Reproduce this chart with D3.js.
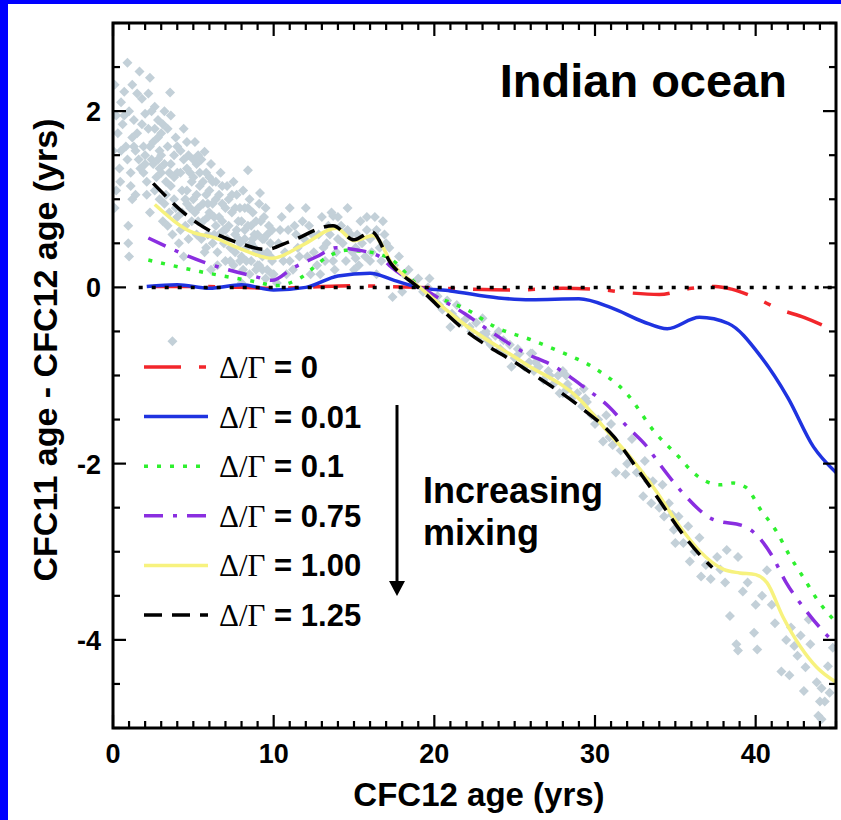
<!DOCTYPE html>
<html><head><meta charset="utf-8">
<script src="https://cdn.jsdelivr.net/npm/d3@7"></script>
<style>body{margin:0;background:#fff}svg{display:block}</style>
</head><body>
<script>
// ---------- data ----------
const xTicks = [0, 10, 20, 30, 40];
const yTicks = [-4, -2, 0, 2];
const xTickLabels = ["0", "10", "20", "30", "40"];
const yTickLabels = ["-4", "-2", "0", "2"];
const legendLabels = ["0", "0.01", "0.1", "0.75", "1.00", "1.25"];

const lineRed = [[2.5,0.01],[5,0.01],[8,0.0],[10,-0.01],[12,0.0],[15,0.02],[17,0.01],[19,0.0],[22,-0.02],[25,-0.03],[28,-0.01],[30,-0.02],[32,-0.06],[34,-0.08],[36,-0.01],[37.5,0.01],[38.5,-0.02],[40,-0.12],[41.5,-0.25],[43,-0.34],[45,-0.5]];
const lineBlue = [[2.1,0.01],[4,0.03],[6,-0.01],[8,0.03],[10,-0.03],[12,0.0],[14,0.13],[16,0.16],[17.5,0.08],[19,0.0],[21,-0.04],[24,-0.12],[26,-0.14],[29,-0.13],[31,-0.23],[33,-0.39],[34.5,-0.47],[36.5,-0.34],[38.3,-0.41],[40.3,-0.78],[42,-1.25],[43.6,-1.81],[45,-2.1]];
const lineGreen = [[2.2,0.31],[5.4,0.18],[8.7,0.07],[10.2,0.02],[11.6,0.1],[13.3,0.34],[14.5,0.42],[16,0.4],[17.3,0.32],[19,0.02],[22.3,-0.28],[23.7,-0.44],[26.1,-0.6],[27.7,-0.72],[30,-0.92],[31.9,-1.19],[33.8,-1.66],[35.2,-1.92],[36.1,-2.1],[37.8,-2.24],[38.6,-2.22],[39.4,-2.27],[40.3,-2.52],[41.3,-2.77],[42.1,-3.04],[43,-3.3],[43.9,-3.56],[45,-3.8]];
const linePurple = [[2.2,0.56],[5.6,0.29],[8.9,0.12],[9.9,0.08],[11.2,0.22],[12.7,0.35],[13.9,0.45],[15,0.43],[16.6,0.35],[17.2,0.25],[19.2,0.0],[21.9,-0.3],[23.5,-0.5],[25.6,-0.74],[27.4,-0.89],[29.3,-1.13],[30.9,-1.36],[32,-1.58],[33.2,-1.8],[34,-2.0],[35.5,-2.34],[37.3,-2.63],[39.4,-2.72],[40,-2.8],[41,-3.04],[41.9,-3.35],[43.1,-3.66],[44.5,-3.96],[45,-4.05]];
const lineYellow = [[2.6,0.94],[5,0.62],[6.2,0.57],[7.9,0.44],[9.9,0.33],[11.8,0.48],[13.9,0.67],[15,0.53],[16.2,0.59],[17.4,0.26],[19.1,0.0],[21.8,-0.41],[25.6,-0.86],[29.1,-1.28],[30.7,-1.62],[32.4,-1.97],[33.8,-2.31],[35.3,-2.72],[36.5,-2.99],[38,-3.2],[39,-3.24],[40,-3.26],[40.7,-3.35],[41.7,-3.74],[42.8,-4.08],[43.8,-4.31],[45,-4.48]];
const lineBlack = [[2.5,1.18],[5,0.76],[7.9,0.5],[9.5,0.43],[11,0.52],[13.7,0.7],[15,0.54],[16.1,0.63],[17.3,0.27],[19,0.0],[21.8,-0.47],[25.6,-0.92],[29.1,-1.36],[31.2,-1.7],[32.4,-2.0],[33.8,-2.36],[35.3,-2.76],[36.5,-3.03],[37.3,-3.18]];

const obsX = [0.1,0.5,0.9,0.7,1.0,1.3,1.65,1.8,2.3,2.0,1.5,0.6,0.3,0.8,1.2,2.2,2.6,2.8,0.4,0.9,1.4,1.9,2.5,0.2,1.1,1.7,2.4,2.9,0.95,0.95,1.0,0.45,3.55,3.2,3.0,2.1,2.7,
3.1,3.4,3.6,3.3,3.8,3.5,3.9,4.0,3.2,3.7,
4.2,4.4,4.6,4.3,4.8,4.5,4.9,4.1,4.7,5.0,
5.2,5.4,5.6,5.3,5.8,5.5,5.9,5.1,5.7,6.0,
6.2,6.4,6.6,6.3,6.8,6.5,6.9,6.1,6.7,7.0,
7.2,7.4,7.6,7.3,7.8,7.5,7.9,7.1,7.7,8.0,
8.2,8.4,8.6,8.3,8.8,8.5,8.9,8.1,8.7,9.0,
9.2,9.4,9.6,9.3,9.8,9.5,9.9,9.1,9.7,10.0,
8.4,9.15,5.7,5.3,4.6,3.7,2.0,1.2,3.0,4.0,
10.3,10.6,10.9,11.2,11.5,11.8,12.1,12.4,12.7,13.0,13.3,13.6,13.9,14.2,14.5,14.8,15.1,15.4,15.7,16.0,16.3,16.6,16.9,10.5,11.0,12.0,13.5,14.0,15.0,16.0,12.9,11.4,10.2,14.6,16.4,13.2,13.7,15.8,16.3,15.1,
17.2,17.5,17.8,18.1,18.4,18.7,19.0,19.3,19.6,17.4,18.0,19.8,19.7,
20.2,20.5,20.8,21.1,21.4,21.7,22.0,22.3,22.6,22.9,23.2,23.5,23.8,24.1,24.4,24.7,25.0,25.3,25.6,25.9,26.2,26.5,26.8,27.1,27.4,27.7,28.0,28.3,28.6,28.9,29.2,29.5,29.8,21.0,23.0,24.0,26.0,28.0,30.0,23.2,26.1,28.2,29.4,30.7,31.1,
30.9,31.3,31.9,32.3,33.1,33.0,34.2,34.6,34.8,35.0,35.8,36.5,35.9,36.6,37.2,37.6,38.2,38.9,38.1,38.4,38.8,39.9,40.1,39.5,40.4,40.7,41.2,41.9,42.2,42.4,41.6,42.6,43.1,43.4,43.8,44.1,44.3,43.9,44.8,43.0,42.1,43.3,38.9,44.0,44.1,32.8,33.6,34.0,35.2,
1.2,1.5,1.8,1.3,1.6,1.1,1.9,1.4,2.0,0.7,0.5,0.2,0.0,0.1,
2.2,2.4,2.6,2.3,2.8,2.5,2.9,2.1,2.6,2.9,2.3,
3.0,3.2,3.4,3.6,3.8,3.3,3.6,3.9,3.1,3.4,3.8,
4.0,4.2,4.4,4.6,4.8,4.3,4.6,4.9,4.2,4.7,5.0,
5.0,5.2,5.4,5.6,5.8,5.3,5.6,5.9,5.2,5.5,5.8,
6.0,6.2,6.4,6.6,6.8,6.3,6.6,6.9,6.2,6.5,6.8,
7.0,7.2,7.4,7.6,7.8,7.3,7.6,7.9,7.1,7.5,7.9,
8.0,8.2,8.4,8.6,8.8,8.3,8.6,8.9,8.1,8.5,8.9,
9.0,9.2,9.4,9.6,9.8,9.3,9.6,9.9,9.1,9.5,9.9,
10.4,10.7,11.0,11.3,11.6,11.9,12.2,12.5,12.8,13.1,13.4,13.7,14.0,14.3,14.6,14.9,15.2,15.5,15.8,16.1,16.4,16.7,10.8,12.3,13.8,15.3,16.8,17.0,
20.3,21.3,22.2,23.3,24.3,25.2,26.3,27.2,28.3,29.3,24.8,27.8,
30.2,30.5,31.0,31.6,32.0,32.6,33.3,33.5,34.3,34.9,35.5,36.2,36.9,37.8,39.2,40.0,41.0,42.8,44.5,44.6,
4.5,5.1,5.9,6.4,7.0,7.7,8.2,8.7,9.3,6.0,3.5,2.8,4.4,6.1,8.0];
const obsY = [2.3,2.1,2.55,2.22,2.0,1.9,2.45,2.14,2.38,1.97,1.75,1.85,1.75,1.6,1.7,1.8,2.05,1.9,1.35,1.45,1.55,1.6,1.65,1.1,1.3,1.35,1.45,1.55,0.7,0.5,0.35,1.2,2.21,2.0,1.75,1.2,1.25,
1.85,1.6,1.4,1.2,1.0,0.85,1.7,1.3,0.95,0.6,
1.55,1.8,1.35,1.1,0.9,0.7,1.2,0.5,1.5,1.0,
1.4,1.15,0.95,0.75,1.3,0.55,0.8,1.65,0.4,1.1,
1.2,1.0,0.8,0.6,0.95,0.4,0.65,1.4,1.3,0.3,
1.0,0.85,0.6,0.45,0.75,0.25,0.5,1.15,1.05,0.35,
0.9,0.7,0.5,0.3,0.6,0.15,0.4,1.1,0.85,0.25,
0.75,0.55,0.4,0.2,0.5,0.1,0.3,0.95,0.7,0.15,
1.33,1.07,1.54,1.5,1.65,-0.61,1.4,1.0,1.3,0.8,
0.5,0.3,0.65,0.2,0.45,0.75,0.35,0.6,0.25,0.8,0.5,0.85,0.4,0.7,0.3,0.6,0.45,0.75,0.35,0.55,0.8,0.45,0.6,0.8,0.9,0.9,0.6,0.55,0.2,0.3,0.15,0.6,0.05,0.9,0.15,0.3,0.81,0.8,0.6,0.33,
0.45,0.25,0.35,0.15,0.2,0.05,0.1,-0.05,0.0,-0.11,-0.05,-0.1,0.1,
-0.1,-0.25,-0.15,-0.3,-0.2,-0.4,-0.35,-0.5,-0.4,-0.55,-0.5,-0.65,-0.55,-0.7,-0.75,-0.65,-0.8,-0.75,-0.9,-0.85,-0.95,-0.9,-1.05,-0.95,-1.1,-1.0,-1.2,-1.1,-1.25,-1.2,-1.35,-1.3,-1.45,-0.45,-0.35,-0.5,-0.75,-0.95,-1.55,-0.53,-0.75,-1.0,-1.26,-1.45,-1.79,
-1.7,-2.1,-2.12,-1.72,-1.97,-2.37,-2.24,-2.45,-2.58,-2.9,-2.71,-2.84,-3.11,-3.28,-3.31,-3.06,-2.98,-3.06,-3.35,-3.73,-4.05,-3.92,-4.11,-3.35,-3.5,-3.21,-3.81,-4.0,-3.86,-4.07,-4.36,-4.18,-4.31,-4.05,-4.48,-4.55,-4.7,-4.86,-4.09,-4.58,-4.4,-3.77,-4.12,-4.7,-4.9,-2.1,-2.2,-2.5,-2.6,
2.3,2.2,1.85,1.6,1.45,1.15,1.3,1.05,1.5,1.95,1.55,1.95,1.55,0.9,
2.2,2.0,1.8,1.6,1.7,1.4,1.35,1.05,1.1,1.0,0.85,
1.5,1.4,1.8,1.95,1.5,1.05,1.15,0.9,0.75,0.7,1.25,
1.6,1.3,1.45,1.1,1.3,0.85,0.95,0.75,0.65,0.55,1.45,
1.25,1.05,1.3,1.2,1.05,0.9,0.75,0.6,0.6,1.45,0.45,
0.85,0.95,1.2,1.05,0.75,0.8,0.6,0.5,0.5,0.25,1.15,
0.9,0.7,1.05,0.9,0.55,0.3,0.4,0.3,0.55,1.2,0.9,
0.75,0.55,0.9,0.7,0.45,0.45,0.3,0.2,0.2,1.0,0.75,
0.6,0.4,0.8,0.6,0.35,0.35,0.2,0.15,0.25,0.9,0.65,
0.65,0.4,0.3,0.7,0.35,0.55,0.7,0.4,0.6,0.45,0.7,0.3,0.8,0.5,0.65,0.4,0.6,0.5,0.65,0.4,0.65,0.3,0.15,0.15,0.2,0.25,0.75,0.5,
-0.2,-0.35,-0.45,-0.6,-0.6,-0.7,-0.85,-1.0,-1.15,-1.15,-0.9,-1.2,
-1.5,-1.75,-1.55,-1.85,-2.0,-2.1,-2.2,-2.45,-2.6,-2.75,-2.9,-3.0,-3.15,-3.2,-3.45,-3.6,-3.6,-3.95,-4.3,-4.6,
1.0,0.85,0.95,0.7,0.65,0.65,0.65,0.55,0.55,1.25,1.3,1.45,0.35,0.2,0.05];

// ---------- layout ----------
const W = 841, H = 820;
const M = {left: 113, right: 836, top: 23, bottom: 728};
const svg = d3.select("body").append("svg").attr("width", W).attr("height", H);
svg.append("rect").attr("width", W).attr("height", H).attr("fill", "#fff");
svg.append("rect").attr("x", 0).attr("y", 0).attr("width", 8).attr("height", H).attr("fill", "#0000ff");
svg.append("rect").attr("x", 0).attr("y", 0).attr("width", W).attr("height", 4).attr("fill", "#0000ff");

const x = d3.scaleLinear().domain([0, 45]).range([M.left, M.right]);
const y = d3.scaleLinear().domain([-5, 3]).range([M.bottom, M.top]);
const FONT = "'Liberation Sans', Arial, Helvetica, sans-serif";

svg.append("defs").append("clipPath").attr("id", "clip")
  .append("rect").attr("x", M.left).attr("y", M.top)
  .attr("width", M.right - M.left).attr("height", M.bottom - M.top);

const plot = svg.append("g").attr("clip-path", "url(#clip)");

// scatter
const pts = obsX.map((v, i) => [v, obsY[i]]);
const r = 5;
plot.append("g").selectAll("path").data(pts).join("path")
  .attr("d", d => { const cx = x(d[0]), cy = y(d[1]);
    return `M${cx},${cy - r}L${cx + r},${cy}L${cx},${cy + r}L${cx - r},${cy}Z`; })
  .attr("fill", "#c3d0d8");

// lines
const series = [
  {data: lineRed, color: "#f2262b", dash: "37,18,7,18"},
  {data: lineBlue, color: "#1f33e0", dash: null},
  {data: lineGreen, color: "#2ef02e", dash: "4,9"},
  {data: linePurple, color: "#8a2ee0", dash: "19,10,4,10"},
  {data: lineYellow, color: "#f7f27e", dash: null},
  {data: lineBlack, color: "#000000", dash: "18,10"}
];
const line = d3.line().x(d => x(d[0])).y(d => y(d[1])).curve(d3.curveMonotoneX);
series.forEach(s => {
  plot.append("path").datum(s.data).attr("d", line)
    .attr("fill", "none").attr("stroke", s.color).attr("stroke-width", 3.5)
    .attr("stroke-dasharray", s.dash);
});

// zero dotted line
plot.append("line").attr("x1", x(1.6)).attr("x2", x(45)).attr("y1", y(0)).attr("y2", y(0))
  .attr("stroke", "#000").attr("stroke-width", 3.5).attr("stroke-dasharray", "4,9");

// ---------- axes with inward ticks on all sides ----------
const xMinor = d3.range(0, 46, 1);
const yMinor = d3.range(-5, 3.01, 0.5);
const ax = svg.append("g").attr("stroke", "#000").attr("stroke-width", 2.2);
xMinor.forEach(v => {
  const len = (v % 10 === 0) ? 13 : 7;
  ax.append("line").attr("x1", x(v)).attr("x2", x(v)).attr("y1", M.bottom).attr("y2", M.bottom - len);
  ax.append("line").attr("x1", x(v)).attr("x2", x(v)).attr("y1", M.top).attr("y2", M.top + len);
});
yMinor.forEach(v => {
  const len = (Math.abs(v % 2) < 1e-9) ? 13 : 7;
  ax.append("line").attr("y1", y(v)).attr("y2", y(v)).attr("x1", M.left).attr("x2", M.left + len);
  ax.append("line").attr("y1", y(v)).attr("y2", y(v)).attr("x1", M.right).attr("x2", M.right - len);
});
svg.append("rect").attr("x", M.left).attr("y", M.top)
  .attr("width", M.right - M.left).attr("height", M.bottom - M.top)
  .attr("fill", "none").attr("stroke", "#000").attr("stroke-width", 3);

// tick labels
svg.append("g").selectAll("text").data(xTicks).join("text")
  .attr("x", d => x(d)).attr("y", 763).attr("text-anchor", "middle")
  .attr("font-family", FONT).attr("font-weight", "bold").attr("font-size", 27)
  .text((d, i) => xTickLabels[i]);
svg.append("g").selectAll("text").data(yTicks).join("text")
  .attr("x", 101).attr("y", d => y(d) + 10).attr("text-anchor", "end")
  .attr("font-family", FONT).attr("font-weight", "bold").attr("font-size", 27)
  .text((d, i) => yTickLabels[i]);

// axis titles
svg.append("text").attr("x", 479).attr("y", 806).attr("text-anchor", "middle")
  .attr("font-family", FONT).attr("font-weight", "bold").attr("font-size", 33)
  .text("CFC12 age (yrs)");
svg.append("text").attr("transform", `translate(57,350) rotate(-90)`).attr("text-anchor", "middle")
  .attr("font-family", FONT).attr("font-weight", "bold").attr("font-size", 34)
  .text("CFC11 age - CFC12 age (yrs)");

// panel title
svg.append("text").attr("x", 787).attr("y", 97).attr("text-anchor", "end")
  .attr("font-family", FONT).attr("font-weight", "bold").attr("font-size", 47)
  .text("Indian ocean");

// legend
const lg = svg.append("g");
series.forEach((s, i) => {
  const yy = 367 + i * 49.6;
  lg.append("line").attr("x1", 144).attr("x2", 208).attr("y1", yy).attr("y2", yy)
    .attr("stroke", s.color).attr("stroke-width", 3.5).attr("stroke-dasharray", s.dash);
  const t = lg.append("text").attr("x", 219).attr("y", yy + 11)
    .attr("font-size", 31);
  t.append("tspan").attr("font-family", "'Liberation Serif', 'Times New Roman', serif").text("Δ/Γ");
  t.append("tspan").attr("font-family", FONT).attr("font-weight", "bold").text(" = " + legendLabels[i]);
});

// arrow and annotation
svg.append("line").attr("x1", 397).attr("x2", 397).attr("y1", 405).attr("y2", 583)
  .attr("stroke", "#000").attr("stroke-width", 3);
svg.append("path").attr("d", "M389,581L405,581L397,596Z").attr("fill", "#000");
const ann = svg.append("text").attr("font-family", FONT).attr("font-weight", "bold").attr("font-size", 36);
ann.append("tspan").attr("x", 423).attr("y", 503).text("Increasing");
ann.append("tspan").attr("x", 423).attr("y", 545).text("mixing");
</script>
</body></html>
